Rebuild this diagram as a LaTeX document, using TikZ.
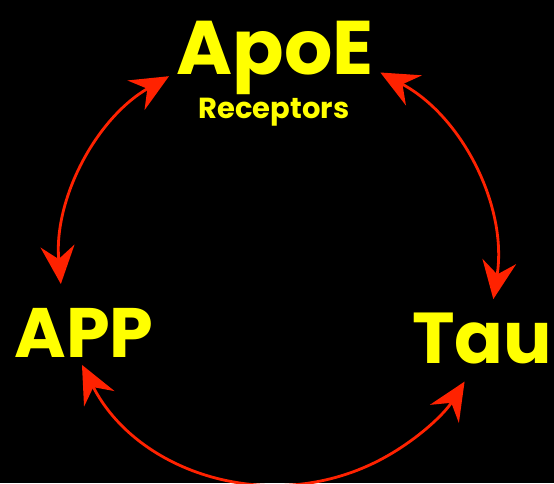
\documentclass[tikz,border=0pt]{standalone}
\usepackage{fontspec}
\setmainfont{Poppins}
\usetikzlibrary{arrows.meta,calc}
\definecolor{txtyel}{HTML}{FFFF00}
\definecolor{arrred}{HTML}{FF2200}
\tikzset{
  lbl/.style={text=txtyel, font=\bfseries, inner sep=0pt},
  biarrow/.style={draw=arrred, line width=2.8pt,
    {Stealth[length=38pt,width=34pt,inset=13pt]}-{Stealth[length=38pt,width=34pt,inset=13pt]}}
}
\begin{document}
\begin{tikzpicture}[x=1pt,y=1pt]
\fill[black] (0,0) rectangle (554,483);
\useasboundingbox (0,0) rectangle (554,483);
\coordinate (c) at (278,218);
\node[lbl, font=\bfseries\fontsize{76}{76}\selectfont] (apoe) at (275,425) {ApoE};
\node[lbl, font=\bfseries\fontsize{29}{29}\selectfont] (rec) at (274,371) {Receptors};
\node[lbl, font=\bfseries\fontsize{70}{70}\selectfont] (app) at (84,150) {APP};
\node[lbl, font=\bfseries\fontsize{72}{72}\selectfont] (tau) at (482,144) {Tau};
\coordinate (e1) at ($(c)+(120:218)$);
\coordinate (e2) at ($(c)+(62:218)$);
\coordinate (e3) at ($(c)+(207:220)$);
\draw[biarrow] (e1) arc[start angle=120, end angle=185, radius=218];
\draw[biarrow] (e2) arc[start angle=62, end angle=-9, radius=218];
\draw[biarrow] (e3) arc[start angle=207, end angle=328, radius=220];
\end{tikzpicture}
\end{document}
